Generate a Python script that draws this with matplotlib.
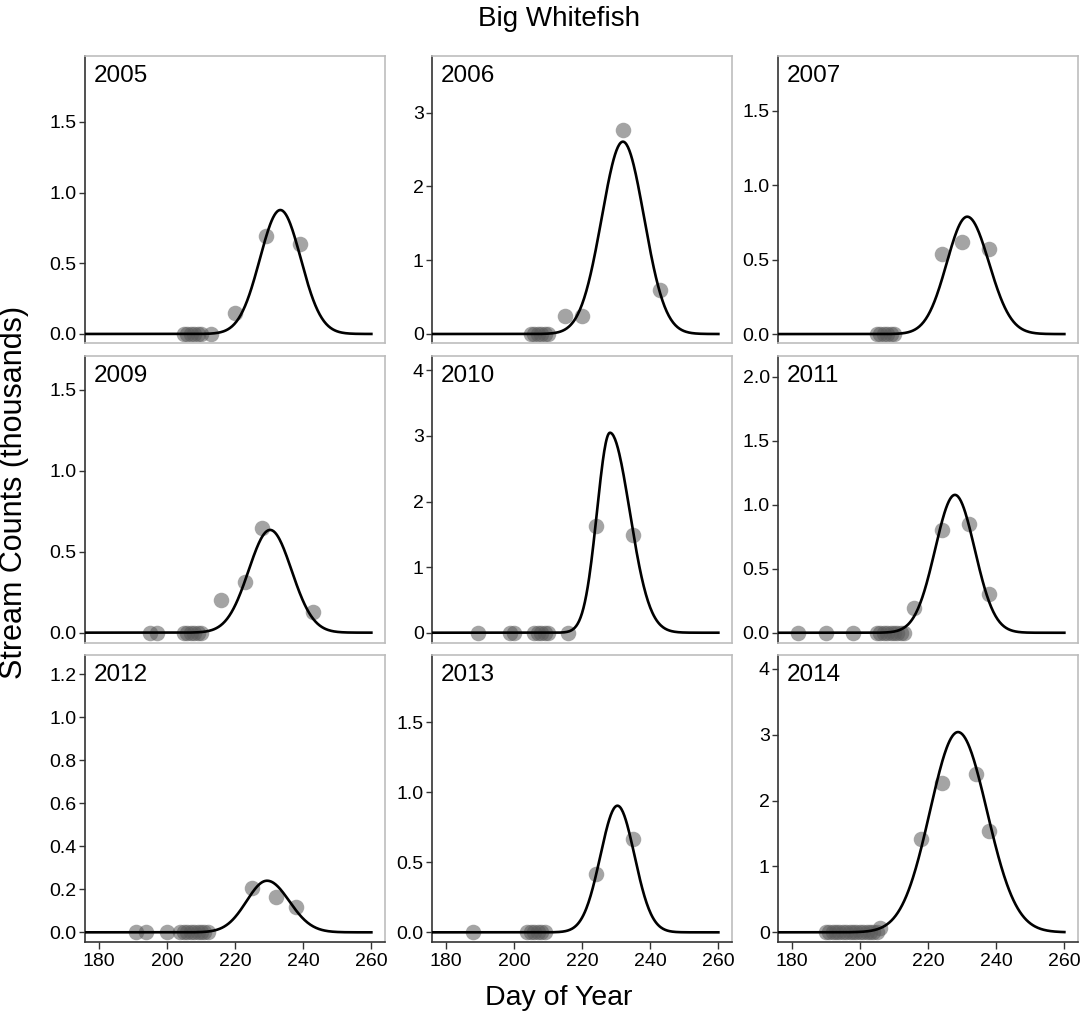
import numpy as np
import matplotlib.pyplot as plt

plt.rcParams['font.family'] = ['Liberation Sans', 'DejaVu Sans']

# panel years
years = ['2005', '2006', '2007', '2009', '2010', '2011', '2012', '2013', '2014']

# observed stream counts (thousands) by day of year
days_2005 = [205, 206, 207, 208, 209, 210, 213, 220, 229, 239]
cnts_2005 = [0, 0, 0, 0, 0, 0, 0, 0.15, 0.69, 0.64]
days_2006 = [205, 206, 207, 208, 209, 210, 215, 220, 232, 243]
cnts_2006 = [0, 0, 0, 0, 0, 0, 0.24, 0.24, 2.77, 0.60]
days_2007 = [205, 206, 207, 208, 209, 210, 224, 230, 238]
cnts_2007 = [0, 0, 0, 0, 0, 0, 0.54, 0.62, 0.57]
days_2009 = [195, 197, 205, 206, 207, 208, 209, 210, 216, 223, 228, 243]
cnts_2009 = [0, 0, 0, 0, 0, 0, 0, 0, 0.20, 0.315, 0.645, 0.13]
days_2010 = [189.5, 199, 200, 206, 207, 208, 209, 210, 216, 224, 235]
cnts_2010 = [0, 0, 0, 0, 0, 0, 0, 0, 0, 1.62, 1.49]
days_2011 = [182, 190, 198, 205, 206, 207, 208, 209, 210, 211, 212, 213, 216, 224, 232, 238]
cnts_2011 = [0, 0, 0, 0, 0, 0, 0, 0, 0, 0, 0, 0, 0.19, 0.80, 0.85, 0.30]
days_2012 = [191, 194, 200, 204, 205, 206, 207, 208, 209, 210, 211, 212, 225, 232, 238]
cnts_2012 = [0, 0, 0, 0, 0, 0, 0, 0, 0, 0, 0, 0, 0.205, 0.166, 0.119]
days_2013 = [188, 204, 205, 206, 207, 208, 209, 224, 235]
cnts_2013 = [0, 0, 0, 0, 0, 0, 0, 0.414, 0.666]
days_2014 = [190, 191, 192, 193, 194, 195, 196, 197, 198, 199, 200, 201, 202, 203, 204, 205,
             206, 218, 224, 234, 238]
cnts_2014 = [0, 0, 0, 0, 0, 0, 0, 0, 0, 0, 0, 0, 0, 0, 0, 0,
             0.06, 1.41, 2.26, 2.40, 1.54]

days = [days_2005, days_2006, days_2007, days_2009, days_2010, days_2011, days_2012, days_2013, days_2014]
cnts = [cnts_2005, cnts_2006, cnts_2007, cnts_2009, cnts_2010, cnts_2011, cnts_2012, cnts_2013, cnts_2014]

# fitted run curve: peak height, peak day, left and right spread
fit_peak = [0.877, 2.606, 0.788, 0.635, 3.05, 1.076, 0.24, 0.904, 3.04]
fit_day = [233.3, 232.0, 231.5, 230.3, 228.2, 227.9, 229.4, 230.4, 228.8]
fit_sd_left = [6.0, 6.2, 6.0, 6.3, 3.8, 5.8, 6.0, 5.0, 8.2]
fit_sd_right = [6.0, 6.2, 6.4, 6.3, 5.8, 5.8, 6.5, 5.0, 8.5]

# y axes (free per panel)
y_lims = [(-0.064, 1.967), (-0.122, 3.767), (-0.06, 1.867),
          (-0.064, 1.71), (-0.157, 4.22), (-0.08, 2.16),
          (-0.045, 1.29), (-0.069, 1.98), (-0.147, 4.21)]
y_ticks = [[0, 0.5, 1.0, 1.5], [0, 1, 2, 3], [0, 0.5, 1.0, 1.5],
           [0, 0.5, 1.0, 1.5], [0, 1, 2, 3, 4], [0, 0.5, 1.0, 1.5, 2.0],
           [0, 0.2, 0.4, 0.6, 0.8, 1.0, 1.2], [0, 0.5, 1.0, 1.5], [0, 1, 2, 3, 4]]
y_fmt = ['%.1f', '%d', '%.1f', '%.1f', '%d', '%.1f', '%.1f', '%.1f', '%d']
x_ticks = [180, 200, 220, 240, 260]

W, H = 1086, 1018
fig = plt.figure(figsize=(W / 100, H / 100), dpi=100)

col_left = [85, 432, 778]
row_top = [56, 356, 655]
pw, ph = 300, 287

xc = np.linspace(176, 260, 400)

for i, yr in enumerate(years):
    r, c = divmod(i, 3)
    ax = fig.add_axes([col_left[c] / W, 1 - (row_top[r] + ph) / H, pw / W, ph / H])
    for s in ax.spines.values():
        s.set_color('#bdbdbd')
        s.set_linewidth(1.2)
    ax.spines['left'].set_color('#333333')
    if r == 2:
        ax.spines['bottom'].set_color('#333333')

    ax.scatter(days[i], cnts[i], s=125, color='#5a5a5a', alpha=0.55, linewidths=0, zorder=2)

    sd = np.where(xc < fit_day[i], fit_sd_left[i], fit_sd_right[i])
    yc = fit_peak[i] * np.exp(-0.5 * ((xc - fit_day[i]) / sd) ** 2)
    ax.plot(xc, yc, color='black', lw=1.9, zorder=3)

    ax.set_xlim(176, 264)
    ax.set_ylim(*y_lims[i])
    ax.set_yticks(y_ticks[i])
    ax.set_yticklabels([y_fmt[i] % v for v in y_ticks[i]])
    ax.set_xticks(x_ticks)
    ax.tick_params(axis='y', length=4, width=1, color='#333333', labelsize=14, pad=2)
    if r == 2:
        ax.tick_params(axis='x', length=5, width=1, color='#333333', labelsize=14, pad=3)
    else:
        ax.tick_params(axis='x', length=0, labelbottom=False)
    ax.text(0.028, 0.93, yr, transform=ax.transAxes, fontsize=17.5, ha='left', va='center')

fig.text(559 / W, 1 - 19 / H, 'Big Whitefish', fontsize=20, ha='center', va='center')
fig.text(559 / W, 1 - 998 / H, 'Day of Year', fontsize=20.5, ha='center', va='center')
fig.text(14 / W, 1 - 492 / H, 'Stream Counts (thousands)', fontsize=22, ha='center', va='center',
         rotation=90)

fig.savefig('out.png', dpi=100)
